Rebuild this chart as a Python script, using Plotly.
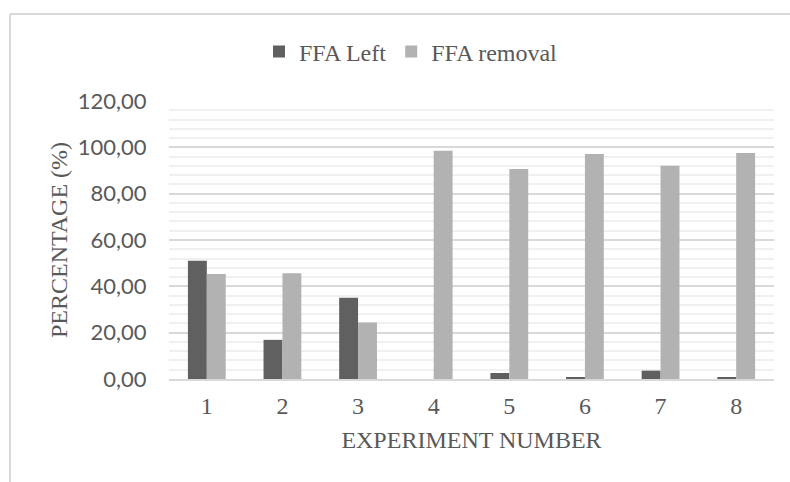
import plotly.graph_objects as go

experiments = ["1", "2", "3", "4", "5", "6", "7", "8"]
ffa_left = [51.0, 16.9, 35.1, 0.0, 2.6, 0.8, 3.6, 0.5]
ffa_removal = [45.3, 45.6, 24.4, 98.5, 90.7, 97.1, 92.0, 97.5]

serif = "Liberation Serif, Times New Roman, serif"
sans = "Lato, Calibri, Carlito, sans-serif"
txt = "#595959"

fig = go.Figure()
fig.add_trace(go.Bar(x=experiments, y=ffa_left, name="FFA Left",
                     marker=dict(color="#606060", line=dict(width=0))))
fig.add_trace(go.Bar(x=experiments, y=ffa_removal, name="FFA removal",
                     marker=dict(color="#b2b2b2", line=dict(width=0))))

W, H = 790, 482
L, T = 169, 101
R = W - 774
B = H - 379
pw, ph = W - L - R, H - T - B

bx0 = (10 - L) / pw
by1 = (379 - 14) / ph

fig.update_layout(
    width=W, height=H,
    margin=dict(l=L, r=R, t=T, b=B, pad=0),
    paper_bgcolor="white", plot_bgcolor="white",
    barmode="group", bargap=0.5, bargroupgap=0,
    separators=", ",
    showlegend=True,
    legend=dict(orientation="h", x=(411 - L) / pw, xanchor="center",
                y=(379 - 52) / ph, yanchor="middle",
                font=dict(family=serif, size=24, color=txt),
                itemwidth=30, tracegroupgap=0, itemsizing="constant",
                bgcolor="rgba(0,0,0,0)"),
    xaxis=dict(
        showgrid=False, showline=True, linecolor="#d9d9d9", linewidth=2,
        ticks="outside", ticklen=4, tickcolor="rgba(0,0,0,0)",
        tickfont=dict(family=serif, size=24, color=txt),
        title=dict(text="EXPERIMENT NUMBER", standoff=13,
                   font=dict(family=serif, size=24, color=txt)),
    ),
    yaxis=dict(
        range=[0, 120], dtick=20, tickformat=".2f",
        showgrid=True, gridcolor="#d9d9d9", gridwidth=2,
        zeroline=False, showline=False,
        ticks="outside", ticklen=17, tickcolor="rgba(0,0,0,0)",
        tickfont=dict(family=sans, size=22, color=txt),
        minor=dict(dtick=4, showgrid=True, gridcolor="#f0f0f0", gridwidth=2),
        title=dict(text="PERCENTAGE (%)", standoff=3,
                   font=dict(family=serif, size=24, color=txt)),
    ),
    shapes=[
        dict(type="line", xref="paper", yref="paper",
             x0=bx0, x1=1.5, y0=by1, y1=by1,
             line=dict(color="#d9d9d9", width=2), layer="below"),
        dict(type="line", xref="paper", yref="paper",
             x0=bx0, x1=bx0, y0=-1.5, y1=by1,
             line=dict(color="#d9d9d9", width=2), layer="below"),
    ],
)

fig.write_html(
    "out.html",
    config={"displayModeBar": False},
    post_script=(
        "document.documentElement.style.overflow='hidden';"
        "document.body.style.margin='0';"
        "document.body.style.overflow='hidden';"
    ),
)
